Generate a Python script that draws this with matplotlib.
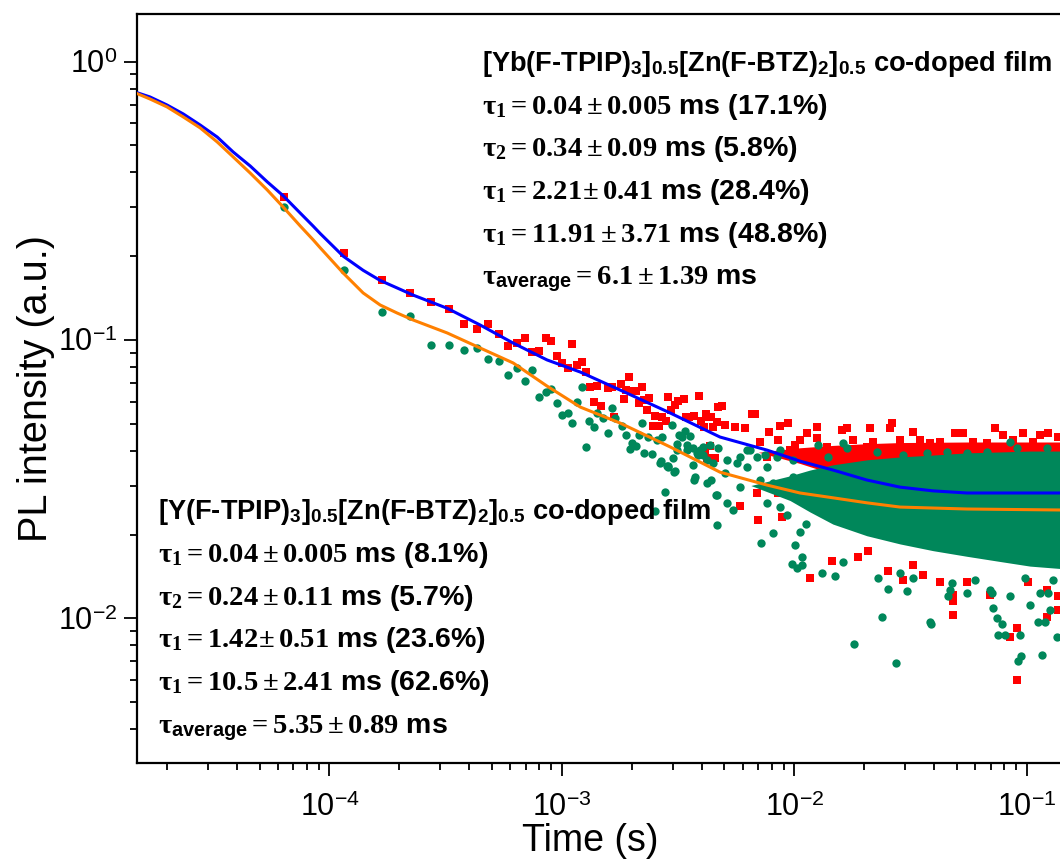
import numpy as np
import matplotlib
matplotlib.use("Agg")
import matplotlib.pyplot as plt
from matplotlib.ticker import FuncFormatter, LogLocator, NullFormatter

plt.rcParams["font.family"] = ["Liberation Sans", "DejaVu Sans"]
plt.rcParams["mathtext.fontset"] = "custom"
plt.rcParams["mathtext.rm"] = "Liberation Serif:bold"
plt.rcParams["mathtext.it"] = "Liberation Serif:bold"
plt.rcParams["mathtext.bf"] = "Liberation Sans:bold"
plt.rcParams["mathtext.sf"] = "Liberation Sans"

# ── fitted curves ──────────────────────────────────────────────────────
fit_t = [1.50e-5, 1.69e-5, 2.00e-5, 2.35e-5, 2.78e-5, 3.29e-5, 3.85e-5,
         4.56e-5, 5.40e-5, 6.32e-5, 7.48e-5, 8.51e-5, 9.12e-5, 1.146e-4,
         1.396e-4, 1.652e-4, 1.955e-4, 2.29e-4, 3.21e-4, 4.45e-4, 6.17e-4,
         8.63e-4, 1.20e-3, 1.78e-3, 2.92e-3, 4.79e-3, 7.64e-3, 1.058e-2,
         1.466e-2, 2.05e-2, 2.85e-2, 3.95e-2, 5.53e-2, 0.139]
fit_yb = [0.772, 0.747, 0.699, 0.649, 0.592, 0.536, 0.474,
          0.422, 0.370, 0.330, 0.286, 0.2565, 0.2414, 0.200,
          0.178, 0.1637, 0.1538, 0.145, 0.130, 0.1132, 0.0975,
          0.0848, 0.0767, 0.0661, 0.0547, 0.0448, 0.0402, 0.0367,
          0.0341, 0.0314, 0.0296, 0.0287, 0.0282, 0.0282]
fit_y = [0.766, 0.7345, 0.688, 0.633, 0.578, 0.5146, 0.455,
         0.398, 0.346, 0.3005, 0.257, 0.229, 0.2145, 0.174,
         0.1476, 0.1336, 0.125, 0.118, 0.106, 0.0936, 0.0827,
         0.0683, 0.0574, 0.0503, 0.0413, 0.0335, 0.0301, 0.0282,
         0.0271, 0.0260, 0.0251, 0.0249, 0.0247, 0.0245]

# ── Yb co-doped film, measured points (red squares) ────────────────────
yb_t = [6.35e-5, 1.16e-4, 1.69e-4, 2.21e-4, 2.74e-4, 3.26e-4, 3.78e-4, 4.31e-4,
        4.83e-4, 5.36e-4, 5.89e-4, 6.41e-4, 6.94e-4, 7.47e-4, 7.98e-4, 8.53e-4,
        8.99e-4, 9.51e-4, 1.005e-3, 1.06e-3, 1.11e-3, 1.159e-3, 1.218e-3, 1.267e-3,
        1.318e-3, 1.372e-3, 1.421e-3, 1.474e-3, 1.576e-3, 1.639e-3, 1.682e-3, 1.798e-3,
        1.851e-3, 1.888e-3, 1.945e-3, 2.03e-3, 2.085e-3, 2.148e-3, 2.207e-3, 2.258e-3,
        2.319e-3, 2.379e-3, 2.475e-3, 2.517e-3, 2.627e-3, 2.706e-3, 2.799e-3, 2.871e-3,
        2.94e-3, 3.077e-3, 3.17e-3, 3.354e-3, 3.411e-3, 3.524e-3, 3.704e-3, 3.903e-3,
        3.957e-3, 4.088e-3, 4.157e-3, 4.368e-3, 4.482e-3, 4.709e-3, 4.338e-3, 4.558e-3,
        4.199e-3, 4.129e-3, 4.871e-3, 6.559e-3, 6.776e-3, 8.68e-3, 9.42e-3, 1.13e-2,
        7.12e-3, 7.81e-3, 8.53e-3, 9.58e-3, 1.007e-2, 7.61e-3, 6.138e-3, 5.558e-3,
        5.033e-3, 4.635e-3, 4.266e-3, 7.0e-3, 5.841e-3, 1.168e-2, 1.058e-2, 8.53e-3,
        6.891e-3, 1.248e-2, 1.60e-2, 1.68e-2, 2.116e-2, 2.624e-2, 2.58e-2, 3.25e-2,
        3.835e-2, 4.91e-2, 5.33e-2, 7.298e-2, 7.925e-2, 9.66e-2, 0.114, 0.1237,
        0.1366, 1.248e-2, 1.058e-2, 1.794e-2, 2.187e-2, 2.85e-2, 3.473e-2, 4.234e-2,
        5.888e-2, 6.72e-2, 8.75e-2, 0.1067, 1.378e-2, 2.048e-2, 2.497e-2, 3.25e-2,
        3.962e-2, 5.16e-2, 7.176e-2, 9.35e-2, 0.1218, 1.625e-2, 2.497e-2, 4.674e-2,
        7.667e-2, 0.130, 8.83e-3, 1.448e-2, 1.885e-2, 2.081e-2, 2.537e-2, 2.944e-2,
        3.25e-2, 3.588e-2, 4.234e-2, 4.83e-2, 4.83e-2, 4.83e-2, 5.514e-2, 6.946e-2,
        8.47e-2, 9.05e-2, 9.05e-2, 0.1015, 0.1218, 0.1366, 0.1218, 0.1366]
yb_i = [0.327, 0.205, 0.164, 0.148, 0.137, 0.1296, 0.1142, 0.1092,
        0.1142, 0.1053, 0.0952, 0.0978, 0.1019, 0.0906, 0.0911, 0.1019,
        0.0994, 0.0875, 0.0829, 0.0791, 0.0965, 0.0813, 0.0833, 0.0769,
        0.068, 0.0598, 0.0682, 0.0579, 0.0674, 0.068, 0.053, 0.0695,
        0.0612, 0.0661, 0.0738, 0.0657, 0.0656, 0.0592, 0.0676, 0.0609,
        0.056, 0.0618, 0.0492, 0.0533, 0.0492, 0.053, 0.0512, 0.0626,
        0.056, 0.0584, 0.0604, 0.0612, 0.053, 0.0527, 0.0533, 0.063,
        0.0512, 0.0486, 0.0542, 0.053, 0.0488, 0.0573, 0.0416, 0.0376,
        0.0376, 0.0392, 0.0579, 0.0541, 0.0542, 0.0492, 0.0502, 0.0462,
        0.0431, 0.0468, 0.0437, 0.0402, 0.0419, 0.038, 0.0481, 0.0488,
        0.0495, 0.0509, 0.053, 0.0225, 0.0254, 0.0139, 0.0277, 0.0281,
        0.0281, 0.0488, 0.0475, 0.0481, 0.0484, 0.0502, 0.0481, 0.0468,
        0.0425, 0.0464, 0.0462, 0.0481, 0.0456, 0.0464, 0.0456, 0.0462,
        0.0449, 0.0443, 0.0437, 0.0437, 0.0431, 0.0437, 0.0437, 0.0431,
        0.0431, 0.0425, 0.0437, 0.0431, 0.0414, 0.0414, 0.0408, 0.0414,
        0.0408, 0.0414, 0.0408, 0.0414, 0.0414, 0.0397, 0.0386, 0.0386,
        0.0389, 0.0386, 0.0232, 0.016, 0.0166, 0.0175, 0.0148, 0.0137,
        0.0155, 0.0143, 0.0135, 0.0121, 0.0115, 0.0103, 0.0135, 0.0121,
        0.0086, 0.0092, 0.0060, 0.0135, 0.0126, 0.0107, 0.0101, 0.012]

# dense tail of the Yb data (band edges)
yb_band_t = [7.0e-3, 1.058e-2, 1.466e-2, 2.05e-2, 2.85e-2, 5.53e-2, 0.1032, 0.139]
yb_band_hi = [0.0395, 0.0410, 0.0418, 0.0424, 0.0428, 0.0430, 0.0430, 0.0430]
yb_band_lo = [0.0395, 0.0360, 0.0330, 0.0310, 0.0300, 0.0290, 0.0290, 0.0290]

# ── Y co-doped film, measured points (green circles) ───────────────────
y_t = [6.35e-5, 1.16e-4, 1.69e-4, 2.21e-4, 2.74e-4, 3.26e-4, 3.78e-4, 4.31e-4,
       4.83e-4, 5.36e-4, 5.89e-4, 6.41e-4, 6.94e-4, 7.47e-4, 7.98e-4, 8.53e-4,
       8.99e-4, 9.51e-4, 1.005e-3, 1.06e-3, 1.11e-3, 1.159e-3, 1.218e-3, 1.267e-3,
       1.313e-3, 1.372e-3, 1.421e-3, 1.508e-3, 1.576e-3, 1.639e-3, 1.694e-3, 1.81e-3,
       1.883e-3, 1.959e-3, 2.004e-3, 2.085e-3, 2.148e-3, 2.207e-3, 2.258e-3, 2.355e-3,
       2.451e-3, 2.56e-3, 2.645e-3, 2.706e-3, 2.826e-3, 2.871e-3, 2.987e-3, 3.047e-3,
       3.12e-3, 3.298e-3, 3.388e-3, 3.445e-3, 3.559e-3, 3.714e-3, 3.752e-3, 3.842e-3,
       3.93e-3, 4.199e-3, 4.368e-3, 4.482e-3, 4.59e-3, 2.779e-3, 2.517e-3, 4.635e-3,
       4.681e-3, 7.19e-3, 8.12e-3, 1.007e-2, 9.74e-3, 1.03e-2, 1.058e-2, 1.123e-2,
       7.61e-3, 8.68e-3, 9.28e-3, 5.118e-3, 5.465e-3, 4.635e-3, 5.841e-3, 7.12e-3,
       8.12e-3, 9.9e-3, 6.242e-3, 7.61e-3, 8.4e-3, 6.891e-3, 5.652e-3, 5.033e-3,
       6.242e-3, 4.199e-3, 4.06e-3, 3.827e-3, 3.656e-3, 3.678e-3, 3.445e-3, 3.192e-3,
       3.017e-3, 3.068e-3, 2.85e-3, 2.68e-3, 3.12e-3, 4.06e-3, 4.338e-3, 5.118e-3,
       5.841e-3, 6.449e-3, 7.48e-3, 8.68e-3, 9.9e-3, 1.268e-2, 1.40e-2, 1.68e-2,
       1.917e-2, 2.262e-2, 2.944e-2, 3.711e-2, 4.524e-2, 5.514e-2, 6.72e-2, 8.47e-2,
       9.05e-2, 0.1218, 0.1067, 1.625e-2, 1.076e-2, 1.076e-2, 1.312e-2, 1.497e-2,
       1.615e-2, 1.807e-2, 2.376e-2, 2.537e-2, 2.73e-2, 2.298e-2, 2.85e-2, 3.062e-2,
       3.25e-2, 3.835e-2, 3.861e-2, 4.596e-2, 4.674e-2, 4.753e-2, 5.514e-2, 5.988e-2,
       7.063e-2, 7.176e-2, 7.42e-2, 7.80e-2, 7.54e-2, 8.06e-2, 9.35e-2, 9.19e-2,
       9.41e-2, 0.1159, 0.1121, 0.1198, 0.1258, 0.1345, 0.1237, 0.1032,
       0.114, 6.946e-2, 8.47e-2, 9.82e-2, 0.130]
y_i = [0.301, 0.1785, 0.1257, 0.1223, 0.096, 0.096, 0.0921, 0.0938,
       0.0855, 0.0843, 0.0749, 0.0791, 0.0714, 0.078, 0.0622, 0.0649,
       0.0667, 0.0592, 0.0536, 0.0545, 0.0502, 0.0597, 0.068, 0.0413,
       0.0513, 0.0487, 0.0548, 0.0524, 0.0464, 0.0569, 0.0526, 0.049,
       0.0455, 0.0407, 0.0425, 0.0415, 0.0456, 0.0505, 0.0394, 0.0447,
       0.039, 0.0437, 0.0361, 0.0448, 0.0353, 0.0353, 0.0494, 0.0335,
       0.0422, 0.0447, 0.0471, 0.0402, 0.0452, 0.0314, 0.0323, 0.0386,
       0.0402, 0.0306, 0.0314, 0.0361, 0.0277, 0.0285, 0.0243, 0.0216,
       0.0408, 0.0186, 0.0202, 0.0183, 0.0157, 0.0152, 0.0205, 0.0219,
       0.0259, 0.0252, 0.0235, 0.0259, 0.0245, 0.0277, 0.0297, 0.0314,
       0.0306, 0.0323, 0.035, 0.035, 0.038, 0.038, 0.0361, 0.0332,
       0.0402, 0.0371, 0.0386, 0.0391, 0.0356, 0.0408, 0.0419, 0.0456,
       0.0376, 0.0337, 0.035, 0.0366, 0.0402, 0.0414, 0.0419, 0.0371,
       0.038, 0.0402, 0.0386, 0.0402, 0.0371, 0.0419, 0.038, 0.0408,
       0.0346, 0.0397, 0.0386, 0.0392, 0.0397, 0.0394, 0.0397, 0.0431,
       0.0408, 0.0408, 0.0371, 0.0425, 0.0155, 0.0166, 0.0145, 0.0142,
       0.0159, 0.0081, 0.0101, 0.0127, 0.0069, 0.0139, 0.0146, 0.0125,
       0.0139, 0.0097, 0.0095, 0.012, 0.0126, 0.0134, 0.0123, 0.0137,
       0.0123, 0.0109, 0.010, 0.0095, 0.0087, 0.0087, 0.0087, 0.007,
       0.0073, 0.0074, 0.0097, 0.0097, 0.0107, 0.0086, 0.0123, 0.0112,
       0.0123, 0.0126, 0.012, 0.0139, 0.0137]

# dense tail of the Y data (band edges)
y_band_t = [6.5e-3, 9.58e-3, 1.168e-2, 1.466e-2, 2.05e-2, 2.85e-2, 3.95e-2,
            5.53e-2, 7.67e-2, 0.1032, 0.139]
y_band_hi = [0.0300, 0.0325, 0.0341, 0.0356, 0.0371, 0.0380, 0.0386,
             0.0393, 0.0396, 0.0399, 0.0399]
y_band_lo = [0.0300, 0.0265, 0.0241, 0.0218, 0.0198, 0.0185, 0.0175,
             0.0167, 0.0160, 0.0154, 0.0151]

# ── annotation text ────────────────────────────────────────────────────
yb_lines = [
    r"[Yb(F-TPIP)$_{\mathbf{3}}$]$_{\mathbf{0.5}}$[Zn(F-BTZ)$_{\mathbf{2}}$]$_{\mathbf{0.5}}$ co-doped film",
    r"$\tau_1 = 0.04 \pm 0.005$ ms (17.1%)",
    r"$\tau_2 = 0.34 \pm 0.09$ ms (5.8%)",
    r"$\tau_1 = 2.21\!\pm 0.41$ ms (28.4%)",
    r"$\tau_1 = 11.91 \pm 3.71$ ms (48.8%)",
    r"$\tau_{\mathbf{average}} = 6.1 \pm 1.39$ ms",
]
y_lines = [
    r"[Y(F-TPIP)$_{\mathbf{3}}$]$_{\mathbf{0.5}}$[Zn(F-BTZ)$_{\mathbf{2}}$]$_{\mathbf{0.5}}$ co-doped film",
    r"$\tau_1 = 0.04 \pm 0.005$ ms (8.1%)",
    r"$\tau_2 = 0.24 \pm 0.11$ ms (5.7%)",
    r"$\tau_1 = 1.42\!\pm 0.51$ ms (23.6%)",
    r"$\tau_1 = 10.5 \pm 2.41$ ms (62.6%)",
    r"$\tau_{\mathbf{average}} = 5.35 \pm 0.89$ ms",
]

RED = "#ff0000"
GREEN = "#00875a"
BLUE = "#0000ff"
ORANGE = "#ff8000"

W, H = 1060, 861
fig = plt.figure(figsize=(W / 100, H / 100), dpi=100)
ax = fig.add_axes([137.3 / W, 1 - 763 / H, 1 - 137.3 / W, (763 - 14) / H])

ax.fill_between(yb_band_t, yb_band_lo, yb_band_hi, color=RED, lw=0, zorder=1)
ax.plot(yb_t, yb_i, "s", color=RED, ms=5.6, mew=0, zorder=2)
ax.fill_between(y_band_t, y_band_lo, y_band_hi, color=GREEN, lw=0, zorder=3)
ax.plot(y_t, y_i, "o", color=GREEN, ms=6, mew=0, zorder=4)
ax.plot(fit_t, fit_yb, color=BLUE, lw=2.2, zorder=5)
ax.plot(fit_t, fit_y, color=ORANGE, lw=2.2, zorder=5)

ax.set_xscale("log")
ax.set_yscale("log")
ax.set_xlim(1.49e-5, 0.139)
ax.set_ylim(3.02e-3, 1.484)

fmt = FuncFormatter(lambda v, p: r"10$^{\mathsf{%d}}$" % round(np.log10(v)))
ax.xaxis.set_major_formatter(fmt)
ax.yaxis.set_major_formatter(fmt)
ax.xaxis.set_minor_formatter(NullFormatter())
ax.yaxis.set_minor_formatter(NullFormatter())
ax.xaxis.set_minor_locator(LogLocator(subs=np.arange(2, 10), numticks=20))
ax.yaxis.set_minor_locator(LogLocator(subs=np.arange(2, 10), numticks=20))

ax.tick_params(which="both", direction="out", top=False, right=False, labelsize=22)
ax.tick_params(which="major", length=9.5, width=1.3)
ax.tick_params(which="minor", length=5, width=1.3)
ax.tick_params(axis="x", which="major", pad=12)
ax.tick_params(axis="y", which="major", pad=5)
ax.spines["right"].set_visible(False)
for s in ["left", "bottom", "top"]:
    ax.spines[s].set_linewidth(1.6)

ax.set_xlabel("Time (s)", fontsize=27, labelpad=-2)
ax.xaxis.set_label_coords(0.4906, -0.08)
ax.set_ylabel("PL intensity (a.u.)", fontsize=28.5, labelpad=2)

for k, line in enumerate(yb_lines):
    fig.text(482 / W, 1 - (71 + 42.7 * k) / H, line,
             fontsize=19.6 if k == 0 else 20.5,
             fontweight="bold", ha="left", va="baseline")
for k, line in enumerate(y_lines):
    fig.text(158 / W, 1 - (519 + 42.8 * k) / H, line,
             fontsize=19.6 if k == 0 else 20.5,
             fontweight="bold", ha="left", va="baseline")

fig.savefig("out.png", dpi=100)
